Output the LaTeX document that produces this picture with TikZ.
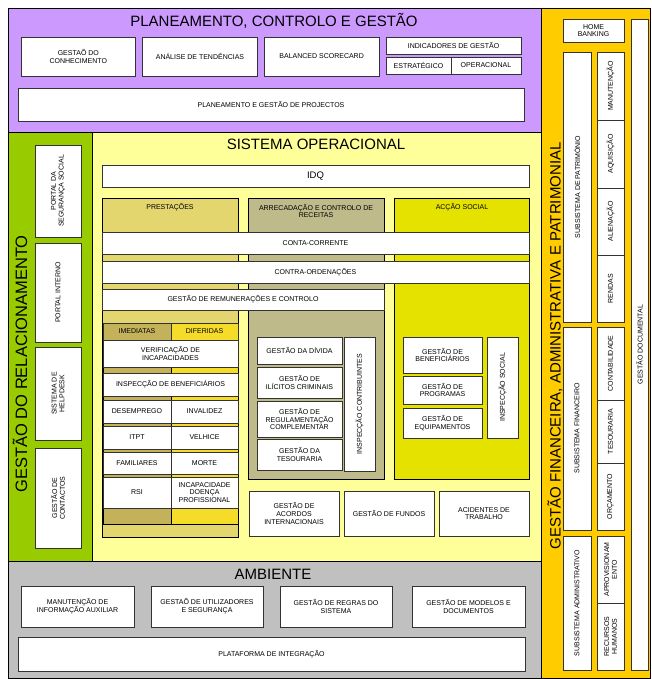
\documentclass[tikz,border=0pt]{standalone}
\usepackage{fontspec}
\setmainfont{Liberation Sans}
\usetikzlibrary{positioning}

\definecolor{planoroxo}{HTML}{CC99FF}
\definecolor{relverde}{HTML}{99CC00}
\definecolor{opamarelo}{HTML}{FFFF99}
\definecolor{ambcinza}{HTML}{C0C0C0}
\definecolor{finouro}{HTML}{FFCC00}
\definecolor{prestbege}{RGB}{228,214,110}
\definecolor{arrecoliva}{RGB}{191,186,138}
\definecolor{accaoamar}{RGB}{230,226,0}
\definecolor{imedoliva}{RGB}{196,178,90}
\definecolor{difamar}{RGB}{245,220,40}

\tikzset{
  caixa/.style={draw=black!80, fill=white, line width=0.6pt, align=center,
    inner sep=1pt, font=\fontsize{7}{7.8}\selectfont},
  painel/.style={draw=black, line width=0.8pt},
  titulo/.style={font=\fontsize{15}{17}\selectfont},
}

% caixa: [opcoes], nome, x1, y1, x2, y2, texto (em pixeis)
\newcommand{\caixa}[7][]{%
  \node[caixa, #1, minimum width={#5-#3}, minimum height={#6-#4}]
    (#2) at ({(#3+#5)/2},{(#4+#6)/2}) {#7};}
\newcommand{\caixav}[7][]{%
  \node[caixa, #1, rotate=90, minimum width={#6-#4}, minimum height={#5-#3}]
    (#2) at ({(#3+#5)/2},{(#4+#6)/2}) {#7};}

\begin{document}
\begin{tikzpicture}[x=1pt,y=-1pt]
  \useasboundingbox (0,0) rectangle (651,679);

  % paineis
  \draw[painel, fill=planoroxo] (8,8) rectangle (541,132);
  \draw[painel, fill=relverde] (8,132) rectangle (92,561);
  \draw[painel, fill=opamarelo] (92,132) rectangle (541,561);
  \draw[painel, fill=ambcinza] (8,561) rectangle (541,678.6);
  \draw[painel, fill=finouro] (541,8) rectangle (650.6,678.6);

  \node[titulo] (tplan) at (274,21) {PLANEAMENTO, CONTROLO E GESTÃO};
  \node[titulo] (tsist) at (316,144) {SISTEMA OPERACIONAL};
  \node[titulo] (tamb) at (273,574) {AMBIENTE};
  \node[titulo, rotate=90, font=\fontsize{16.5}{18}\selectfont] (trel) at (20,364) {GESTÃO DO RELACIONAMENTO};
  \node[titulo, rotate=90] (tfin) at (555,346) {GESTÃO FINANCEIRA, ADMINISTRATIVA E PATRIMONIAL};

  % planeamento
  \caixa{gconh}{21}{37}{135.7}{76}{GESTAÕ DO\\CONHECIMENTO}
  \caixa{analise}{142.7}{37}{257.3}{76}{ANÁLISE DE TENDÊNCIAS}
  \caixa{bsc}{264.3}{37}{379}{76}{BALANCED SCORECARD}
  \caixa{indic}{386}{37}{521}{54}{INDICADORES DE GESTÃO}
  \caixa{estrat}{386}{57}{451}{74}{ESTRATÉGICO}
  \caixa{operac}{451}{57}{521}{74}{OPERACIONAL}
  \caixa{pgp}{18}{88}{524}{121}{PLANEAMENTO E GESTÃO DE PROJECTOS}

  % relacionamento
  \caixav{pss}{35}{145}{81}{237}{PORTAL DA\\SEGURANÇA SOCIAL}
  \caixav{pint}{35}{243}{81}{342}{PORTAL INTERNO}
  \caixav{help}{35}{347}{81}{440}{SISTEMA DE\\HELPDESK}
  \caixav{gcont}{35}{448}{81}{548}{GESTÃO DE\\CONTACTOS}

  % sistema operacional
  \caixa{idq}{102}{165}{529}{187}{\fontsize{9.5}{11}\selectfont IDQ}
  \draw[painel, line width=0.6pt, fill=prestbege] (102,198) rectangle (238,537);
  \draw[painel, line width=0.6pt, fill=arrecoliva] (248,198) rectangle (384,479);
  \draw[painel, line width=0.6pt, fill=accaoamar] (394,198) rectangle (529,479);
  \node[caixa, draw=none, fill=none] (lprest) at (170,207) {PRESTAÇÕES};
  \node[caixa, draw=none, fill=none] (larrec) at (316,211) {ARRECADAÇÃO E CONTROLO DE\\RECEITAS};
  \node[caixa, draw=none, fill=none] (laccao) at (462,207) {ACÇÃO SOCIAL};

  \caixa{cc}{102}{232}{529}{254}{CONTA-CORRENTE}
  \caixa{co}{102}{261}{529}{283}{CONTRA-ORDENAÇÕES}
  \caixa{grc}{102}{289}{384}{310}{GESTÃO DE REMUNERAÇÕES E CONTROLO}

  % prestacoes
  \draw[line width=0.6pt, fill=imedoliva] (103,340) rectangle (171,524);
  \draw[line width=0.6pt, fill=difamar] (171,340) rectangle (238,524);
  \caixa[fill=imedoliva]{imedh}{103}{323}{171}{340}{IMEDIATAS}
  \caixa[fill=difamar]{difh}{171}{323}{238}{340}{DIFERIDAS}
  \caixa{verif}{103}{340}{238}{367}{VERIFICAÇÃO DE\\INCAPACIDADES}
  \caixa{inspb}{103}{373}{238}{396}{INSPECÇÃO DE BENEFICIÁRIOS}
  \caixa{desemp}{103}{400}{171}{423}{DESEMPREGO}
  \caixa{invalid}{171}{400}{238}{423}{INVALIDEZ}
  \caixa{itpt}{103}{426}{171}{449}{ITPT}
  \caixa{velhice}{171}{426}{238}{449}{VELHICE}
  \caixa{famil}{103}{452}{171}{474}{FAMILIARES}
  \caixa{morte}{171}{452}{238}{474}{MORTE}
  \caixa{rsi}{103}{477}{171}{508}{RSI}
  \caixa{incap}{171}{477}{238}{508}{INCAPACIDADE\\DOENÇA\\PROFISSIONAL}

  % arrecadacao
  \caixa{gdiv}{257}{337}{342}{364}{GESTÃO DA DÍVIDA}
  \caixa{gilic}{257}{367}{342}{398}{GESTÃO DE\\ILÍCITOS CRIMINAIS}
  \caixa{greg}{257}{401}{342}{437}{GESTÃO DE\\REGULAMENTAÇÃO\\COMPLEMENTAR}
  \caixa{gtes}{257}{439}{342}{470}{GESTÃO DA\\TESOURARIA}
  \caixav{inspc}{344}{337}{375}{471}{INSPECÇÃO CONTRIBUINTES}

  % accao social
  \caixa{gben}{403}{337}{482}{373}{GESTÃO DE\\BENEFICIÁRIOS}
  \caixa{gprog}{403}{376}{482}{404}{GESTÃO DE\\PROGRAMAS}
  \caixa{gequip}{403}{408}{482}{438}{GESTÃO DE\\EQUIPAMENTOS}
  \caixav{insps}{487}{337}{518}{438}{INSPECÇÃO SOCIAL}

  \caixa{gacord}{249}{491}{339}{536}{GESTÃO DE\\ACORDOS\\INTERNACIONAIS}
  \caixa{gfund}{344}{491}{434}{536}{GESTÃO DE FUNDOS}
  \caixa{acid}{439}{491}{529}{536}{ACIDENTES DE\\TRABALHO}

  % ambiente
  \caixa{manut}{21}{586}{134}{627}{MANUTENÇÃO DE\\INFORMAÇÃO AUXILIAR}
  \caixa{gutil}{151}{586}{263}{627}{GESTAÕ DE UTILIZADORES\\E SEGURANÇA}
  \caixa{gregr}{280}{586}{392}{627}{GESTÃO DE REGRAS DO\\SISTEMA}
  \caixa{gmod}{412}{586}{525}{627}{GESTÃO DE MODELOS E\\DOCUMENTOS}
  \caixa{plat}{18}{637}{525}{671}{PLATAFORMA DE INTEGRAÇÃO}

  % gestao financeira
  \caixa{hb}{563}{19}{624}{42}{HOME\\BANKING}
  \caixav{spat}{563}{52}{591}{322}{SUBSISTEMA DE PATRIMÓNIO}
  \caixav{manu}{597}{52}{624}{120}{MANUTENÇÃO}
  \caixav{aquis}{597}{120}{624}{188}{AQUISIÇÃO}
  \caixav{alien}{597}{188}{624}{255}{ALIENAÇÃO}
  \caixav{rendas}{597}{255}{624}{322}{RENDAS}
  \caixav{sfin}{563}{327}{591}{530}{SUBSISTEMA FINANCEIRO}
  \caixav{contab}{597}{327}{624}{400}{CONTABILIDADE}
  \caixav{tesour}{597}{400}{624}{463}{TESOURARIA}
  \caixav{orcam}{597}{463}{624}{530}{ORÇAMENTO}
  \caixav{sadm}{563}{536}{591}{670}{SUBSISTEMA ADMINISTRATIVO}
  \caixav{aprov}{597}{536}{624}{603}{APROVISIONAM\\ENTO}
  \caixav{rh}{597}{603}{624}{670}{RECURSOS\\HUMANOS}
  \caixav{gdoc}{631}{19}{648}{670}{GESTÃO DOCUMENTAL}
\end{tikzpicture}
\end{document}
